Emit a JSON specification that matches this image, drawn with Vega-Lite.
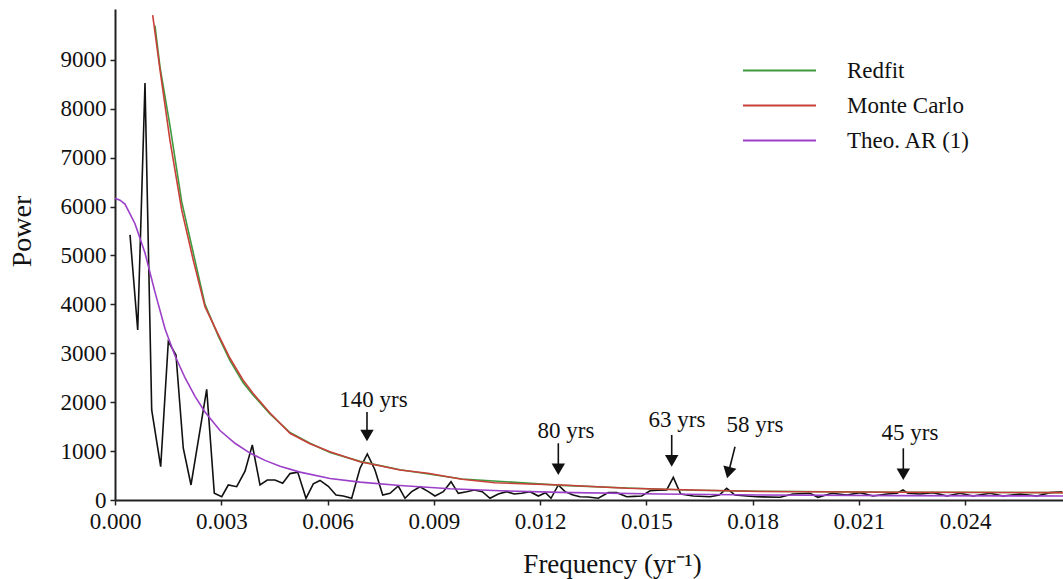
{
  "$schema": "https://vega.github.io/schema/vega-lite/v6.json",
  "width": 948,
  "height": 491,
  "autosize": "none",
  "padding": {"left": 115, "top": 9, "right": 0, "bottom": 79},
  "background": "white",
  "config": {
    "view": {"stroke": null},
    "font": "Liberation Serif",
    "axis": {"grid": false, "labelFlush": false, "labelOverlap": false, "domainColor": "#222", "domainWidth": 2, "tickColor": "#222", "tickWidth": 1.5, "tickSize": 5, "labelFont": "Liberation Serif", "labelFontSize": 23, "labelColor": "#111", "titleFont": "Liberation Serif", "titleFontWeight": "normal", "titleColor": "#111"},
    "legend": {"orient": "none", "legendX": 653, "legendY": 50, "padding": 0, "symbolType": "M-36.5,0L36.5,0", "symbolSize": 4, "symbolStrokeWidth": 1.8, "labelFont": "Liberation Serif", "labelFontSize": 23, "labelColor": "#111", "labelOffset": 56, "rowPadding": 11}
  },
  "datasets": {
    "spectrum": [
      {"f": 0.000424, "p": 5420}, {"f": 0.000641, "p": 3477}, {"f": 0.000847, "p": 8524}, {"f": 0.001036, "p": 1841},
      {"f": 0.00129, "p": 681}, {"f": 0.001505, "p": 3238}, {"f": 0.001722, "p": 2966}, {"f": 0.001928, "p": 1058},
      {"f": 0.002146, "p": 307}, {"f": 0.002589, "p": 2264}, {"f": 0.002804, "p": 137}, {"f": 0.003013, "p": 67},
      {"f": 0.003199, "p": 307}, {"f": 0.003436, "p": 272}, {"f": 0.003671, "p": 590}, {"f": 0.003877, "p": 1125},
      {"f": 0.004094, "p": 307}, {"f": 0.0043, "p": 409}, {"f": 0.004518, "p": 409}, {"f": 0.004735, "p": 341},
      {"f": 0.004941, "p": 540}, {"f": 0.005159, "p": 570}, {"f": 0.005393, "p": 35}, {"f": 0.005599, "p": 330},
      {"f": 0.005788, "p": 400}, {"f": 0.006023, "p": 280}, {"f": 0.00624, "p": 102}, {"f": 0.006446, "p": 82},
      {"f": 0.006683, "p": 35}, {"f": 0.006918, "p": 650}, {"f": 0.007124, "p": 941}, {"f": 0.007341, "p": 613},
      {"f": 0.007559, "p": 102}, {"f": 0.007765, "p": 137}, {"f": 0.007999, "p": 286}, {"f": 0.008188, "p": 35},
      {"f": 0.008377, "p": 170}, {"f": 0.008612, "p": 272}, {"f": 0.008846, "p": 170}, {"f": 0.009035, "p": 82},
      {"f": 0.00927, "p": 170}, {"f": 0.009487, "p": 375}, {"f": 0.009693, "p": 137}, {"f": 0.00993, "p": 170},
      {"f": 0.010145, "p": 205}, {"f": 0.010371, "p": 170}, {"f": 0.010588, "p": 35}, {"f": 0.010823, "p": 123},
      {"f": 0.01106, "p": 170}, {"f": 0.011274, "p": 123}, {"f": 0.011483, "p": 137}, {"f": 0.011718, "p": 170},
      {"f": 0.011952, "p": 82}, {"f": 0.012155, "p": 150}, {"f": 0.012311, "p": 35}, {"f": 0.012517, "p": 307},
      {"f": 0.012706, "p": 170}, {"f": 0.012932, "p": 100}, {"f": 0.013129, "p": 67}, {"f": 0.013355, "p": 60},
      {"f": 0.013646, "p": 35}, {"f": 0.013928, "p": 150}, {"f": 0.014165, "p": 150}, {"f": 0.014448, "p": 67},
      {"f": 0.014654, "p": 75}, {"f": 0.014871, "p": 82}, {"f": 0.015106, "p": 190}, {"f": 0.015332, "p": 200},
      {"f": 0.015577, "p": 205}, {"f": 0.015764, "p": 464}, {"f": 0.015972, "p": 123}, {"f": 0.016329, "p": 82},
      {"f": 0.0168, "p": 67}, {"f": 0.017063, "p": 102}, {"f": 0.017271, "p": 239}, {"f": 0.017506, "p": 102},
      {"f": 0.017836, "p": 82}, {"f": 0.018118, "p": 67}, {"f": 0.018776, "p": 55}, {"f": 0.019143, "p": 123},
      {"f": 0.019623, "p": 137}, {"f": 0.019849, "p": 55}, {"f": 0.020244, "p": 137}, {"f": 0.020668, "p": 102},
      {"f": 0.021035, "p": 150}, {"f": 0.021402, "p": 82}, {"f": 0.021797, "p": 123}, {"f": 0.02208, "p": 137},
      {"f": 0.022249, "p": 205}, {"f": 0.02239, "p": 137}, {"f": 0.022729, "p": 123}, {"f": 0.023096, "p": 150},
      {"f": 0.023492, "p": 82}, {"f": 0.023859, "p": 137}, {"f": 0.024226, "p": 82}, {"f": 0.024706, "p": 137},
      {"f": 0.025073, "p": 82}, {"f": 0.025553, "p": 123}, {"f": 0.026033, "p": 82}, {"f": 0.026399, "p": 150},
      {"f": 0.026739, "p": 170}
    ],
    "curves": [
      {"series": "Redfit", "f": 0.001129, "p": 9700}, {"series": "Redfit", "f": 0.001271, "p": 8850},
      {"series": "Redfit", "f": 0.001553, "p": 7650}, {"series": "Redfit", "f": 0.001883, "p": 6100},
      {"series": "Redfit", "f": 0.002211, "p": 5050}, {"series": "Redfit", "f": 0.002541, "p": 4000},
      {"series": "Redfit", "f": 0.002917, "p": 3350}, {"series": "Redfit", "f": 0.003247, "p": 2850},
      {"series": "Redfit", "f": 0.003614, "p": 2400}, {"series": "Redfit", "f": 0.003896, "p": 2150},
      {"series": "Redfit", "f": 0.004376, "p": 1760}, {"series": "Redfit", "f": 0.004941, "p": 1380},
      {"series": "Redfit", "f": 0.005506, "p": 1160}, {"series": "Redfit", "f": 0.006071, "p": 970},
      {"series": "Redfit", "f": 0.006918, "p": 790}, {"series": "Redfit", "f": 0.008047, "p": 620},
      {"series": "Redfit", "f": 0.009798, "p": 430}, {"series": "Redfit", "f": 0.012621, "p": 300},
      {"series": "Redfit", "f": 0.014456, "p": 245}, {"series": "Redfit", "f": 0.01632, "p": 200},
      {"series": "Redfit", "f": 0.018211, "p": 180}, {"series": "Redfit", "f": 0.022164, "p": 160},
      {"series": "Redfit", "f": 0.026767, "p": 150},
      {"series": "Monte Carlo", "f": 0.001064, "p": 9915}, {"series": "Monte Carlo", "f": 0.001271, "p": 8795},
      {"series": "Monte Carlo", "f": 0.001553, "p": 7350}, {"series": "Monte Carlo", "f": 0.001883, "p": 5932},
      {"series": "Monte Carlo", "f": 0.002211, "p": 4900}, {"series": "Monte Carlo", "f": 0.002541, "p": 3954},
      {"series": "Monte Carlo", "f": 0.002917, "p": 3380}, {"series": "Monte Carlo", "f": 0.003247, "p": 2898},
      {"series": "Monte Carlo", "f": 0.003614, "p": 2455}, {"series": "Monte Carlo", "f": 0.003896, "p": 2182},
      {"series": "Monte Carlo", "f": 0.004376, "p": 1780}, {"series": "Monte Carlo", "f": 0.004941, "p": 1364},
      {"series": "Monte Carlo", "f": 0.005506, "p": 1150}, {"series": "Monte Carlo", "f": 0.006071, "p": 989},
      {"series": "Monte Carlo", "f": 0.006918, "p": 784}, {"series": "Monte Carlo", "f": 0.0072, "p": 740},
      {"series": "Monte Carlo", "f": 0.008047, "p": 614}, {"series": "Monte Carlo", "f": 0.008838, "p": 546},
      {"series": "Monte Carlo", "f": 0.009798, "p": 423}, {"series": "Monte Carlo", "f": 0.010729, "p": 354},
      {"series": "Monte Carlo", "f": 0.011661, "p": 327}, {"series": "Monte Carlo", "f": 0.012621, "p": 307},
      {"series": "Monte Carlo", "f": 0.014456, "p": 239}, {"series": "Monte Carlo", "f": 0.01632, "p": 205},
      {"series": "Monte Carlo", "f": 0.018211, "p": 175}, {"series": "Monte Carlo", "f": 0.022164, "p": 160},
      {"series": "Monte Carlo", "f": 0.026767, "p": 150},
      {"series": "Theo. AR (1)", "f": 0.0, "p": 6170}, {"series": "Theo. AR (1)", "f": 0.000141, "p": 6130},
      {"series": "Theo. AR (1)", "f": 0.000282, "p": 6050}, {"series": "Theo. AR (1)", "f": 0.000565, "p": 5650},
      {"series": "Theo. AR (1)", "f": 0.000847, "p": 5050}, {"series": "Theo. AR (1)", "f": 0.001129, "p": 4250},
      {"series": "Theo. AR (1)", "f": 0.001412, "p": 3500}, {"series": "Theo. AR (1)", "f": 0.001694, "p": 2950},
      {"series": "Theo. AR (1)", "f": 0.001976, "p": 2500}, {"series": "Theo. AR (1)", "f": 0.002259, "p": 2120},
      {"series": "Theo. AR (1)", "f": 0.002541, "p": 1800}, {"series": "Theo. AR (1)", "f": 0.002965, "p": 1420},
      {"series": "Theo. AR (1)", "f": 0.003388, "p": 1160}, {"series": "Theo. AR (1)", "f": 0.003812, "p": 960},
      {"series": "Theo. AR (1)", "f": 0.004235, "p": 810}, {"series": "Theo. AR (1)", "f": 0.004659, "p": 690},
      {"series": "Theo. AR (1)", "f": 0.005224, "p": 570}, {"series": "Theo. AR (1)", "f": 0.006071, "p": 440},
      {"series": "Theo. AR (1)", "f": 0.006918, "p": 365}, {"series": "Theo. AR (1)", "f": 0.008047, "p": 295},
      {"series": "Theo. AR (1)", "f": 0.009459, "p": 230}, {"series": "Theo. AR (1)", "f": 0.01087, "p": 190},
      {"series": "Theo. AR (1)", "f": 0.012565, "p": 155}, {"series": "Theo. AR (1)", "f": 0.015388, "p": 122},
      {"series": "Theo. AR (1)", "f": 0.018211, "p": 102}, {"series": "Theo. AR (1)", "f": 0.022164, "p": 90},
      {"series": "Theo. AR (1)", "f": 0.026767, "p": 82}
    ],
    "labels": [
      {"label": "140 yrs", "f": 0.007299, "p": 2055},
      {"label": "80 yrs", "f": 0.012734, "p": 1421},
      {"label": "63 yrs", "f": 0.015868, "p": 1626},
      {"label": "58 yrs", "f": 0.01807, "p": 1534},
      {"label": "45 yrs", "f": 0.022447, "p": 1370}
    ],
    "arrows": [
      {"label": "140 yrs", "f": 0.007115, "p": 1800, "f2": 0.007115, "p2": 1300, "fh": 0.007115, "ph": 1319},
      {"label": "80 yrs", "f": 0.012517, "p": 1160, "f2": 0.012517, "p2": 620, "fh": 0.012517, "ph": 630},
      {"label": "63 yrs", "f": 0.015719, "p": 1330, "f2": 0.015719, "p2": 790, "fh": 0.015719, "ph": 801},
      {"label": "58 yrs", "f": 0.017506, "p": 1090, "f2": 0.017322, "p2": 558, "fh": 0.017322, "ph": 558},
      {"label": "45 yrs", "f": 0.022258, "p": 1057, "f2": 0.022258, "p2": 520, "fh": 0.022258, "ph": 527}
    ]
  },
  "layer": [
    {
      "data": {"name": "spectrum"},
      "mark": {"type": "line", "color": "#111", "strokeWidth": 1.6},
      "encoding": {
        "x": {"field": "f", "type": "quantitative", "scale": {"domain": [0, 0.026767], "nice": false, "zero": false},
          "axis": {"values": [0, 0.003, 0.006, 0.009, 0.012, 0.015, 0.018, 0.021, 0.024], "format": ".3f", "labelPadding": 5, "labelFlush": false, "title": "Frequency (yr⁻¹)", "titleFontSize": 27, "titleX": 497, "titleY": 72, "titleBaseline": "alphabetic", "titleAlign": "center"}},
        "y": {"field": "p", "type": "quantitative", "scale": {"domain": [0, 10040], "nice": false},
          "axis": {"values": [0, 1000, 2000, 3000, 4000, 5000, 6000, 7000, 8000, 9000], "format": "d", "labelPadding": 4, "labelFlush": false, "title": "Power", "titleFontSize": 28, "titleAngle": 270, "titleX": -93, "titleY": 222, "titleBaseline": "middle", "titleAlign": "center"}}
      }
    },
    {
      "data": {"name": "curves"},
      "mark": {"type": "line", "strokeWidth": 1.6},
      "encoding": {
        "x": {"field": "f", "type": "quantitative"},
        "y": {"field": "p", "type": "quantitative"},
        "color": {"field": "series", "type": "nominal", "title": null,
          "scale": {"domain": ["Redfit", "Monte Carlo", "Theo. AR (1)"], "range": ["#3f9a3f", "#c9403a", "#9b3fc8"]},
          "sort": ["Redfit", "Monte Carlo", "Theo. AR (1)"]}
      }
    },
    {
      "data": {"name": "arrows"},
      "mark": {"type": "rule", "color": "#111", "strokeWidth": 1.6},
      "encoding": {
        "x": {"field": "f", "type": "quantitative"},
        "y": {"field": "p", "type": "quantitative"},
        "x2": {"field": "f2"},
        "y2": {"field": "p2"}
      }
    },
    {
      "data": {"name": "arrows"},
      "transform": [{"filter": "datum.label !== '58 yrs'"}],
      "mark": {"type": "point", "shape": "triangle-down", "filled": true, "color": "#111", "size": 180, "opacity": 1},
      "encoding": {
        "x": {"field": "fh", "type": "quantitative"},
        "y": {"field": "ph", "type": "quantitative"}
      }
    },
    {
      "data": {"name": "arrows"},
      "transform": [{"filter": "datum.label === '58 yrs'"}],
      "mark": {"type": "point", "shape": "triangle-down", "filled": true, "color": "#111", "size": 180, "opacity": 1, "angle": 14},
      "encoding": {
        "x": {"field": "fh", "type": "quantitative"},
        "y": {"field": "ph", "type": "quantitative"}
      }
    },
    {
      "data": {"name": "labels"},
      "mark": {"type": "text", "font": "Liberation Serif", "fontSize": 23, "color": "#111", "align": "center", "baseline": "middle"},
      "encoding": {
        "x": {"field": "f", "type": "quantitative"},
        "y": {"field": "p", "type": "quantitative"},
        "text": {"field": "label"}
      }
    },
    {
      "mark": {"type": "rule", "color": "#222", "strokeWidth": 2},
      "encoding": {"y": {"datum": 10040}}
    }
  ]
}
